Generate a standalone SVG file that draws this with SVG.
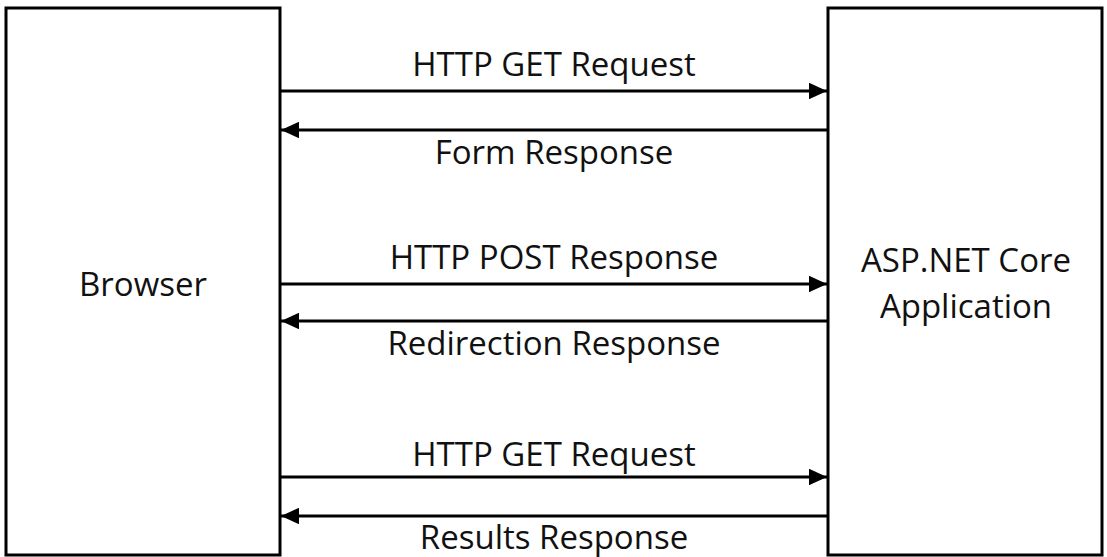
<svg xmlns="http://www.w3.org/2000/svg" width="1107" height="557" viewBox="0 0 1107 557">
<style>
.box{fill:#fff;stroke:#000;stroke-width:3}
.lbl{font-family:"Open Sans","Noto Sans",sans-serif;font-size:33px;fill:#111;text-anchor:middle}
.ar{stroke:#000;stroke-width:3;fill:none}
</style>
<defs>
<marker id="ah" viewBox="0 0 10 10" refX="10" refY="5" markerWidth="6" markerHeight="5.5" markerUnits="strokeWidth" orient="auto" preserveAspectRatio="none">
<path d="M0,0 L10,5 L0,10 z" fill="#000"/>
</marker>
</defs>
<rect width="1107" height="557" fill="#fff"/>
<g id="browser">
<rect class="box" x="6" y="8" width="274" height="547"/>
<text class="lbl" x="143" y="296">Browser</text>
</g>
<g id="app">
<rect class="box" x="828" y="8" width="274" height="547"/>
<text class="lbl" x="966" y="272">ASP.NET Core</text>
<text class="lbl" x="966" y="318">Application</text>
</g>
<g id="connectors">
<line class="ar" x1="281" y1="91" x2="827" y2="91" marker-end="url(#ah)"/>
<line class="ar" x1="827" y1="130" x2="281" y2="130" marker-end="url(#ah)"/>
<line class="ar" x1="281" y1="284" x2="827" y2="284" marker-end="url(#ah)"/>
<line class="ar" x1="827" y1="321" x2="281" y2="321" marker-end="url(#ah)"/>
<line class="ar" x1="281" y1="477" x2="827" y2="477" marker-end="url(#ah)"/>
<line class="ar" x1="827" y1="516" x2="281" y2="516" marker-end="url(#ah)"/>
<text class="lbl" x="554" y="76">HTTP GET Request</text>
<text class="lbl" x="554" y="164">Form Response</text>
<text class="lbl" x="554" y="269">HTTP POST Response</text>
<text class="lbl" x="554" y="355">Redirection Response</text>
<text class="lbl" x="554" y="466">HTTP GET Request</text>
<text class="lbl" x="554" y="549">Results Response</text>
</g>
</svg>
